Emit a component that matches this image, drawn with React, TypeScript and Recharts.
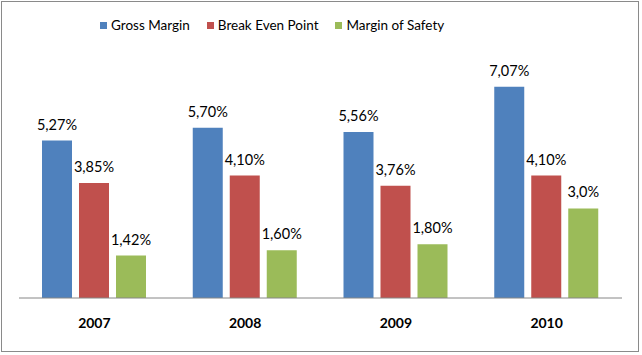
import React from "react";
import { BarChart, Bar, XAxis, YAxis, Legend, LabelList } from "recharts";

const years = ["2007", "2008", "2009", "2010"];
const grossMargin = [5.27, 5.7, 5.56, 7.07];
const breakEven = [3.85, 4.1, 3.76, 4.1];
const marginSafety = [1.42, 1.6, 1.8, 3.0];
const grossLabels = ["5,27%", "5,70%", "5,56%", "7,07%"];
const breakLabels = ["3,85%", "4,10%", "3,76%", "4,10%"];
const safetyLabels = ["1,42%", "1,60%", "1,80%", "3,0%"];

const seriesNames = ["Gross Margin", "Break Even Point", "Margin of Safety"];
const colors = ["#4F81BD", "#C0504D", "#9BBB59"];

const data = years.map((y, i) => ({
  year: y,
  gm: grossMargin[i],
  be: breakEven[i],
  ms: marginSafety[i],
  gmL: grossLabels[i],
  beL: breakLabels[i],
  msL: safetyLabels[i],
}));

const FONT = "Lato, 'Open Sans', sans-serif";

const renderLegend = (props: any) => {
  const payload = [...(props.payload || [])].sort(
    (a: any, b: any) => seriesNames.indexOf(a.value) - seriesNames.indexOf(b.value)
  );
  return (
    <div
      style={{
        height: 42,
        display: "flex",
        justifyContent: "flex-start",
        alignItems: "flex-start",
        fontFamily: FONT,
        fontSize: 13.5,
        color: "#000",
        paddingLeft: 81,
      }}
    >
      {payload.map((p: any, i: number) => (
        <div
          key={i}
          style={{ display: "flex", alignItems: "center", marginRight: i < payload.length - 1 ? 17 : 0 }}
        >
          <span
            style={{ width: 7, height: 7, background: p.color, display: "inline-block", marginRight: 4 }}
          />
          <span>{p.value}</span>
        </div>
      ))}
    </div>
  );
};

export default function App() {
  return (
    <div style={{ position: "absolute", left: 0, top: 0, width: 642, height: 355, background: "#fff" }}>
      <div
        style={{
          position: "absolute",
          left: 1,
          top: 1,
          width: 636,
          height: 349,
          border: "1px solid #8a8a8a",
        }}
      />
      <div style={{ position: "absolute", left: 0, top: 0 }}>
        <BarChart
          width={642}
          height={355}
          data={data}
          margin={{ top: 17, right: 20, bottom: 27, left: 19 }}
          barSize={30}
          barGap={7}
        >
          <XAxis
            dataKey="year"
            axisLine={{ stroke: "#868686" }}
            tickLine={false}
            height={30}
            tickMargin={14}
            tick={{ fontFamily: FONT, fontSize: 14, fontWeight: 700, fill: "#000" }}
          />
          <YAxis hide domain={[0, 8]} />
          <Legend verticalAlign="top" align="center" content={renderLegend} />
          <Bar dataKey="gm" name={seriesNames[0]} fill={colors[0]} isAnimationActive={false}>
            <LabelList dataKey="gmL" position="top" offset={11} style={{ fontFamily: FONT, fontSize: 14.5, fill: "#000" }} />
          </Bar>
          <Bar dataKey="be" name={seriesNames[1]} fill={colors[1]} isAnimationActive={false}>
            <LabelList dataKey="beL" position="top" offset={11} style={{ fontFamily: FONT, fontSize: 14.5, fill: "#000" }} />
          </Bar>
          <Bar dataKey="ms" name={seriesNames[2]} fill={colors[2]} isAnimationActive={false}>
            <LabelList dataKey="msL" position="top" offset={11} style={{ fontFamily: FONT, fontSize: 14.5, fill: "#000" }} />
          </Bar>
        </BarChart>
      </div>
    </div>
  );
}
